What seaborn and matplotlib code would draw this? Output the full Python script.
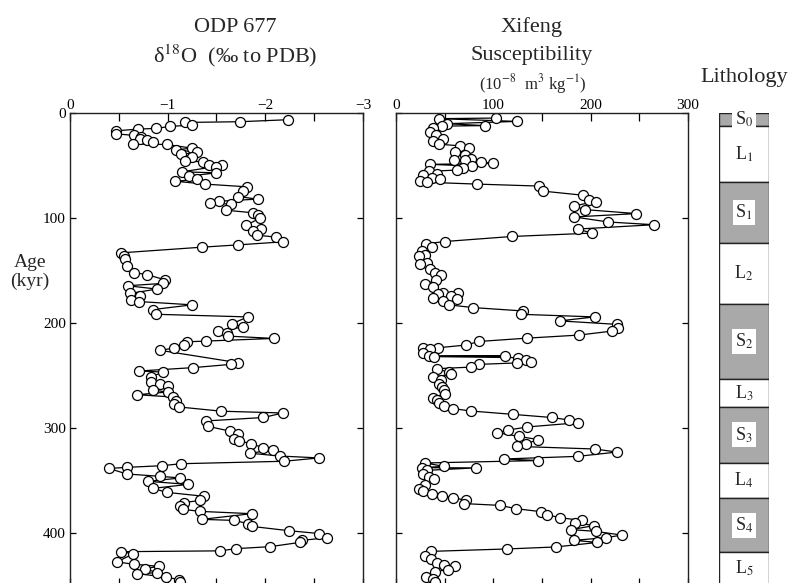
import numpy as np
import pandas as pd
import matplotlib
matplotlib.use("Agg")
import matplotlib.pyplot as plt
from matplotlib.ticker import MultipleLocator
import seaborn as sns

# ODP 677 oxygen isotope record (age in kyr, d18O)
odp_age = [6.4, 8.3, 9.0, 11.5, 12.8, 14.7, 15.3, 17.0, 19.8, 21.4, 23.3, 25.0, 26.0, 27.5,
           29.4, 30.0, 33.5, 35.0, 37.4, 39.3, 42.0, 46.0, 46.3, 49.8, 50.0, 51.0, 56.0, 57.0,
           60.0, 63.3, 65.0, 67.7, 70.3, 74.0, 79.6, 82.0, 84.0, 85.3, 87.0, 92.6, 95.0, 97.4,
           100.0, 107.0, 110.5, 112.8, 116.3, 118.2, 122.7, 125.6, 127.8, 133.2, 136.0, 139.3,
           146.0, 152.0, 154.0, 158.8, 162.3, 164.5, 167.7, 171.9, 174.0, 178.0, 179.6, 182.7,
           187.2, 191.7, 194.2, 200.6, 203.8, 207.7, 209.3, 212.5, 214.7, 217.3, 217.9, 221.4,
           224.0, 226.0, 237.8, 239.4, 242.5, 245.7, 246.7, 251.4, 256.0, 257.8, 260.0, 264.0,
           265.7, 268.3, 270.5, 274.0, 277.0, 280.0, 284.0, 285.7, 290.0, 293.3, 298.4, 303.0,
           306.0, 310.8, 312.0, 315.0, 318.7, 321.0, 324.0, 326.7, 328.5, 331.7, 334.0, 335.9,
           337.5, 338.5, 343.8, 346.0, 347.6, 350.8, 353.7, 357.5, 361.3, 365.0, 369.0, 371.0,
           374.6, 377.5, 379.4, 381.6, 387.0, 388.0, 391.0, 393.7, 397.8, 400.5, 404.5, 407.0,
           409.0, 413.0, 414.9, 417.0, 417.8, 419.7, 427.6, 429.8, 431.7, 434.0, 437.8, 438.7,
           442.0, 444.4, 447.0]
odp_d18o = [-2.23, -1.74, -1.18, -1.25, -1.02, -0.88, -0.70, -0.47, -0.47, -0.66, -0.73, -0.72,
            -0.79, -0.85, -0.64, -0.99, -1.25, -1.09, -1.30, -1.14, -1.25, -1.18, -1.36, -1.56,
            -1.42, -1.49, -1.15, -1.50, -1.22, -1.30, -1.08, -1.38, -1.81, -1.77, -1.72, -1.92,
            -1.53, -1.43, -1.65, -1.60, -1.87, -1.92, -1.95, -1.80, -1.96, -1.87, -1.91, -2.11,
            -2.18, -1.72, -1.35, -0.52, -0.55, -0.56, -0.58, -0.66, -0.79, -0.97, -0.95, -0.59,
            -0.89, -0.61, -0.72, -0.62, -0.71, -1.25, -0.85, -0.88, -1.82, -1.66, -1.77, -1.52,
            -1.61, -1.62, -2.09, -1.39, -1.20, -1.17, -1.06, -0.92, -1.72, -1.65, -1.26, -0.71,
            -0.95, -0.83, -0.83, -0.92, -1.00, -0.85, -1.00, -0.69, -1.05, -1.09, -1.06, -1.12,
            -1.55, -2.18, -1.98, -1.39, -1.41, -1.64, -1.72, -1.68, -1.73, -1.85, -1.98, -2.08,
            -1.84, -2.15, -2.55, -2.19, -1.14, -0.94, -0.58, -0.40, -0.58, -0.92, -1.13, -0.80,
            -1.21, -0.85, -0.99, -1.37, -1.33, -1.17, -1.13, -1.16, -1.33, -1.86, -1.35, -1.68,
            -1.82, -1.86, -2.24, -2.55, -2.63, -2.38, -2.35, -2.05, -1.70, -1.54, -0.52, -0.65,
            -0.48, -0.66, -0.91, -0.77, -0.89, -0.69, -0.98, -1.12, -1.13]

# Xifeng magnetic susceptibility (age in kyr, 10^-8 m3/kg)
xf_age = [4.8, 5.4, 8.0, 10.2, 12.0, 12.5, 14.4, 18.2, 21.4, 24.6, 26.2, 29.7, 31.3, 33.5, 37.4,
          40.0, 43.8, 44.7, 45.0, 46.6, 48.0, 48.9, 50.5, 52.7, 54.3, 55.6, 58.0, 58.8, 62.3,
          63.0, 64.5, 66.0, 67.7, 69.6, 74.4, 78.3, 82.4, 84.3, 88.5, 92.0, 95.8, 99.0, 103.8,
          106.4, 110.5, 114.4, 117.6, 122.4, 124.6, 127.8, 131.0, 135.0, 135.8, 143.0, 143.8,
          148.6, 152.7, 154.0, 159.0, 163.3, 165.5, 171.0, 171.6, 172.5, 174.0, 176.4, 177.3,
          179.0, 182.7, 185.3, 188.5, 191.7, 194.2, 198.0, 201.3, 205.0, 207.7, 211.5, 214.4,
          217.6, 221.0, 223.6, 224.2, 225.2, 229.0, 231.2, 231.5, 232.0, 233.0, 235.0, 237.5,
          238.0, 239.4, 242.0, 243.5, 247.0, 249.0, 251.4, 254.0, 257.8, 261.0, 264.0, 267.3,
          271.0, 273.7, 276.2, 278.7, 281.6, 283.8, 287.0, 290.0, 292.4, 295.0, 299.0, 302.0,
          304.4, 308.0, 311.0, 315.0, 317.5, 320.0, 322.9, 327.0, 329.5, 331.0, 333.3, 336.5,
          337.8, 338.0, 340.3, 343.5, 346.7, 349.0, 354.0, 357.8, 359.7, 363.0, 364.8, 366.3,
          369.0, 372.0, 373.7, 376.8, 379.7, 382.5, 385.4, 388.0, 390.0, 393.0, 396.8, 398.4,
          402.0, 404.4, 407.0, 409.0, 413.3, 415.2, 417.5, 421.6, 425.0, 428.3, 430.0, 431.7,
          435.0, 436.8, 442.0, 443.5, 446.7]
xf_sus = [103, 44, 124, 52, 91, 47, 38, 35, 41, 48, 38, 44, 66, 75, 61, 71, 77, 71, 60, 87, 100,
          35, 78, 69, 63, 34, 42, 28, 37, 45, 25, 32, 83, 147, 151, 192, 198, 205, 183, 194, 247,
          183, 218, 265, 187, 201, 119, 50, 31, 37, 27, 30, 24, 32, 25, 35, 40, 46, 41, 30, 38,
          48, 64, 43, 56, 38, 63, 48, 54, 79, 130, 128, 204, 168, 227, 228, 222, 188, 135, 85,
          72, 43, 28, 35, 28, 34, 112, 39, 125, 134, 139, 124, 85, 77, 42, 54, 56, 38, 46, 44,
          47, 49, 50, 38, 42, 44, 49, 59, 77, 120, 160, 178, 187, 135, 115, 104, 126, 146, 134,
          124, 204, 227, 187, 111, 146, 30, 49, 27, 82, 32, 28, 34, 39, 30, 24, 28, 37, 47, 59,
          72, 70, 107, 123, 149, 155, 168, 191, 184, 203, 180, 205, 232, 216, 183, 207, 164,
          114, 36, 30, 36, 42, 49, 61, 53, 40, 31, 38, 40]

# Lithology units
litho_top = [0, 12, 66, 124, 182, 253, 280, 333, 367, 418]
litho_bottom = [12, 66, 124, 182, 253, 280, 333, 367, 418, 450]
litho_label = ["S$_0$", "L$_1$", "S$_1$", "L$_2$", "S$_2$", "L$_3$", "S$_3$", "L$_4$", "S$_4$", "L$_5$"]

odp = pd.DataFrame({"age": odp_age, "d18o": odp_d18o}).sort_values("age")
xf = pd.DataFrame({"age": xf_age, "sus": xf_sus}).sort_values("age")
litho = pd.DataFrame({"top": litho_top, "bottom": litho_bottom, "label": litho_label})
litho["soil"] = litho["label"].str.startswith("S")

sns.set_theme(style="ticks")
plt.rcParams["font.family"] = ["Liberation Serif", "DejaVu Serif"]
plt.rcParams["mathtext.fontset"] = "stix"

W, H = 795, 583
fig = plt.figure(figsize=(W / 100, H / 100), dpi=100)


def box(x0, x1, y0=113, y1=585.5):
    return [x0 / W, 1 - y1 / H, (x1 - x0) / W, (y1 - y0) / H]


ax1 = fig.add_axes(box(70, 363))
ax2 = fig.add_axes(box(396, 688))
ax3 = fig.add_axes(box(719, 769))

line_kw = dict(marker="o", markersize=7.2, markerfacecolor="white", markeredgecolor="black",
               markeredgewidth=0.9, color="black", linewidth=0.9, sort=False, estimator=None)

sns.lineplot(data=odp, x="d18o", y="age", ax=ax1, orient="y", **line_kw)
sns.lineplot(data=xf, x="sus", y="age", ax=ax2, orient="y", **line_kw)

for ax in (ax1, ax2):
    ax.set_ylim(450, 0)
    ax.set_xlabel("")
    ax.set_ylabel("")
    ax.yaxis.set_major_locator(MultipleLocator(100))
    ax.tick_params(axis="both", which="both", direction="in", top=True, bottom=True,
                   left=True, right=True, labeltop=True, labelbottom=False,
                   labelsize=11, colors="black", width=0.9)
    ax.tick_params(axis="x", which="both", length=6, pad=1)
    ax.tick_params(axis="y", length=4)
    for s in ax.spines.values():
        s.set_linewidth(1.0)
        s.set_color("#222222")
    ax.spines["bottom"].set_visible(False)

ax1.set_xlim(0, -3)
ax1.xaxis.set_major_locator(MultipleLocator(1))
ax1.xaxis.set_minor_locator(MultipleLocator(0.5))
ax1.tick_params(axis="y", labelleft=True, pad=3)

ax2.set_xlim(0, 300)
ax2.xaxis.set_major_locator(MultipleLocator(100))
ax2.xaxis.set_minor_locator(MultipleLocator(50))
ax2.tick_params(axis="y", labelleft=False)

# lithology column
ax3.bar(x=0.5, height=litho["bottom"] - litho["top"], bottom=litho["top"], width=1.0,
        color=np.where(litho["soil"], "#a9a9a9", "white"), edgecolor="#222222", linewidth=1.0)
for _, r in litho.iterrows():
    mid = (r["top"] + r["bottom"]) / 2
    if r["soil"]:
        ax3.text(0.5, mid, r["label"], ha="center", va="center", fontsize=13,
                 bbox=dict(facecolor="white", edgecolor="none", pad=2.0))
    else:
        ax3.text(0.5, mid, r["label"], ha="center", va="center", fontsize=13)
ax3.set_xlim(0, 1)
ax3.set_ylim(450, 0)
ax3.axis("off")

# titles
fig.text(235 / W, 1 - 32 / H, "ODP 677", ha="center", va="baseline", fontsize=16)
fig.text(235 / W, 1 - 62 / H, "δ$^{18}$O  (‰ to PDB)", ha="center", va="baseline", fontsize=16)
fig.text(532 / W, 1 - 32 / H, "Xifeng", ha="center", va="baseline", fontsize=16)
fig.text(532 / W, 1 - 60 / H, "Susceptibility", ha="center", va="baseline", fontsize=16)
fig.text(533 / W, 1 - 89 / H, "(10$^{-8}$  m$^3$ kg$^{-1}$)", ha="center", va="baseline", fontsize=12)
fig.text(744 / W, 1 - 82 / H, "Lithology", ha="center", va="baseline", fontsize=16)
fig.text(30 / W, 1 - 272 / H, "Age\n(kyr)", ha="center", va="center", fontsize=14,
         linespacing=1.1)

fig.savefig("out.png", dpi=100)
